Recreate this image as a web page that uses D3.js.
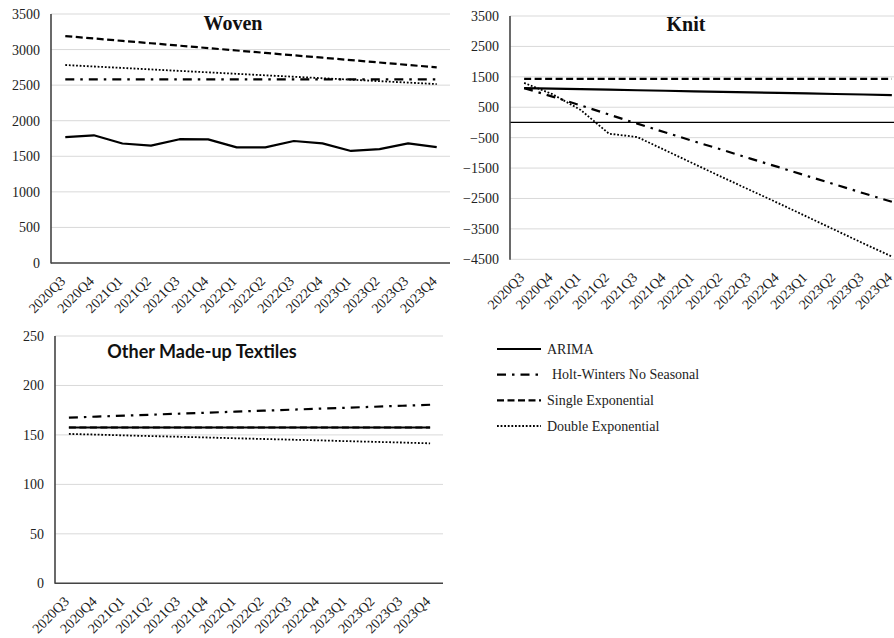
<!DOCTYPE html>
<html>
<head>
<meta charset="utf-8">
<script src="https://cdn.jsdelivr.net/npm/d3@7"></script>
<style>
  html, body { margin: 0; padding: 0; background: #fff; }
  svg { display: block; }
</style>
</head>
<body>
<svg id="chart" width="894" height="638"></svg>
<script>
// Forecast quarters shared by all three panels
const quarters = ["2020Q3","2020Q4","2021Q1","2021Q2","2021Q3","2021Q4","2022Q1","2022Q2","2022Q3","2022Q4","2023Q1","2023Q2","2023Q3","2023Q4"];

// Woven
const wovenArima  = [1770, 1795, 1680, 1650, 1740, 1738, 1625, 1625, 1715, 1682, 1575, 1600, 1682, 1628];
const wovenHolt   = [2580, 2580, 2580, 2580, 2580, 2580, 2580, 2580, 2580, 2580, 2580, 2580, 2580, 2580];
const wovenSingle = [3190, 3156, 3122, 3089, 3055, 3021, 2987, 2953, 2919, 2886, 2852, 2818, 2784, 2750];
const wovenDouble = [2783, 2762, 2742, 2721, 2700, 2680, 2659, 2638, 2618, 2597, 2577, 2556, 2536, 2515];
const wovenTicks  = [0, 500, 1000, 1500, 2000, 2500, 3000, 3500];

// Knit
const knitArima  = [1130, 1112, 1095, 1077, 1059, 1042, 1024, 1006, 989, 971, 953, 936, 918, 900];
const knitHolt   = [1130, 850, 560, 260, -40, -330, -620, -900, -1190, -1470, -1760, -2040, -2330, -2610];
const knitSingle = [1430, 1430, 1430, 1430, 1430, 1430, 1430, 1430, 1430, 1430, 1430, 1430, 1430, 1430];
const knitDouble = [1300, 930, 410, -370, -480, -920, -1360, -1800, -2230, -2660, -3100, -3540, -3980, -4410];
const knitTicks  = [3500, 2500, 1500, 500, -500, -1500, -2500, -3500, -4500];

// Other Made-up Textiles
const otherArima  = [157.5, 157.5, 157.5, 157.5, 157.5, 157.5, 157.5, 157.5, 157.5, 157.5, 157.5, 157.5, 157.5, 157.5];
const otherHolt   = [167.5, 168.5, 169.5, 170.5, 171.5, 172.5, 173.5, 174.5, 175.5, 176.5, 177.5, 178.5, 179.5, 180.5];
const otherSingle = [157.5, 157.5, 157.5, 157.5, 157.5, 157.5, 157.5, 157.5, 157.5, 157.5, 157.5, 157.5, 157.5, 157.5];
const otherDouble = [151, 150.3, 149.5, 148.8, 148.1, 147.4, 146.6, 145.9, 145.2, 144.5, 143.7, 143, 142.3, 141.5];
const otherTicks  = [0, 50, 100, 150, 200, 250];

const methodNames = ["ARIMA", "Holt-Winters No Seasonal", "Single Exponential", "Double Exponential"];

// Stroke style per forecasting method
const styles = {
  "ARIMA":                    { dash: null,          width: 2.2 },
  "Holt-Winters No Seasonal": { dash: "9,6,2.5,6",   width: 2.2 },
  "Single Exponential":       { dash: "7,3.5",       width: 2.2 },
  "Double Exponential":       { dash: "1.8,1.8",     width: 1.8 }
};

const svg = d3.select("#chart");
const serif = '"Liberation Serif", "Times New Roman", serif';

function drawPanel(p) {
  const x = d3.scaleBand().domain(quarters).range([p.x0, p.x1]);
  const y = d3.scaleLinear().domain(p.domain).range([p.yBottom, p.yTop]);
  const g = svg.append("g");

  // horizontal gridlines
  g.selectAll("line.grid").data(p.ticks).join("line")
    .attr("class", "grid")
    .attr("x1", p.x0).attr("x2", p.gridEnd)
    .attr("y1", d => y(d)).attr("y2", d => y(d))
    .attr("stroke", "#d9d9d9").attr("stroke-width", 1);

  // y axis labels
  const yAxis = d3.axisLeft(y).tickValues(p.ticks).tickFormat(d3.format("d")).tickSize(0).tickPadding(11);
  const ya = g.append("g").attr("transform", `translate(${p.x0},0)`).call(yAxis);
  ya.attr("font-family", null).attr("font-size", null);
  ya.select(".domain").remove();
  ya.selectAll("text")
    .style("font-family", serif).style("font-size", "14px").attr("fill", "#222");

  // x axis labels, rotated
  const xAxis = d3.axisBottom(x).tickSize(0).tickPadding(0);
  const xa = g.append("g").attr("transform", `translate(0,${p.yBottom})`).call(xAxis);
  xa.attr("font-family", null).attr("font-size", null);
  xa.select(".domain").remove();
  xa.selectAll("text")
    .style("font-family", serif).style("font-size", "14px").attr("fill", "#222")
    .attr("text-anchor", "end")
    .attr("dy", 0)
    .attr("transform", "translate(1,19) rotate(-45)");

  // zero reference line
  if (p.zeroLine) {
    g.append("line")
      .attr("x1", p.x0).attr("x2", p.gridEnd)
      .attr("y1", y(0)).attr("y2", y(0))
      .attr("stroke", "#000").attr("stroke-width", 1.2);
  }

  // axis lines
  g.append("line")
    .attr("x1", p.x0).attr("x2", p.x0)
    .attr("y1", p.yTop).attr("y2", p.yBottom + 0.5)
    .attr("stroke", "#444").attr("stroke-width", 1.6);
  if (p.bottomAxis) {
    g.append("line")
      .attr("x1", p.x0).attr("x2", p.gridEnd)
      .attr("y1", p.yBottom).attr("y2", p.yBottom)
      .attr("stroke", "#444").attr("stroke-width", 1.6);
  }

  // series lines
  const line = d3.line().x((d, i) => x(quarters[i]) + x.bandwidth() / 2).y(d => y(d));
  p.series.forEach(s => {
    const st = styles[s.name];
    g.append("path")
      .datum(s.values)
      .attr("d", line)
      .attr("fill", "none")
      .attr("stroke", "#000")
      .attr("stroke-width", st.width)
      .attr("stroke-dasharray", st.dash)
      .attr("stroke-linejoin", "round");
  });

  // panel title
  g.append("text")
    .attr("x", p.titleX).attr("y", p.titleY)
    .attr("text-anchor", "middle")
    .style("font-family", p.titleFont)
    .style("font-weight", "bold")
    .style("font-size", p.titleSize + "px")
    .attr("fill", "#111")
    .text(p.title);
}

drawPanel({
  title: "Woven", titleX: 233, titleY: 30, titleSize: 20, titleFont: serif,
  x0: 51, x1: 451, gridEnd: 450, yTop: 14, yBottom: 263,
  domain: [0, 3500], ticks: wovenTicks, bottomAxis: true,
  series: [
    { name: "Single Exponential", values: wovenSingle },
    { name: "Double Exponential", values: wovenDouble },
    { name: "Holt-Winters No Seasonal", values: wovenHolt },
    { name: "ARIMA", values: wovenArima }
  ]
});

drawPanel({
  title: "Knit", titleX: 686, titleY: 31, titleSize: 20, titleFont: serif,
  x0: 510, x1: 906, gridEnd: 894, yTop: 16, yBottom: 259.3,
  domain: [-4500, 3500], ticks: knitTicks, bottomAxis: false, zeroLine: true,
  series: [
    { name: "Single Exponential", values: knitSingle },
    { name: "Double Exponential", values: knitDouble },
    { name: "Holt-Winters No Seasonal", values: knitHolt },
    { name: "ARIMA", values: knitArima }
  ]
});

drawPanel({
  title: "Other Made-up Textiles", titleX: 202, titleY: 358, titleSize: 18,
  titleFont: 'Lato, "Open Sans", sans-serif',
  x0: 55, x1: 444, gridEnd: 443, yTop: 336, yBottom: 583.3,
  domain: [0, 250], ticks: otherTicks, bottomAxis: true,
  series: [
    { name: "Double Exponential", values: otherDouble },
    { name: "Holt-Winters No Seasonal", values: otherHolt },
    { name: "Single Exponential", values: otherSingle },
    { name: "ARIMA", values: otherArima }
  ]
});

// legend
const legendY = d3.scalePoint().domain(methodNames).range([349, 426]);
const legend = svg.append("g");
methodNames.forEach(name => {
  const st = styles[name];
  const yy = legendY(name);
  legend.append("line")
    .attr("x1", 497).attr("x2", 541)
    .attr("y1", yy).attr("y2", yy)
    .attr("stroke", "#000")
    .attr("stroke-width", st.width)
    .attr("stroke-dasharray", st.dash);
  legend.append("text")
    .attr("x", name === "Holt-Winters No Seasonal" ? 552 : 547)
    .attr("y", yy + 4.5)
    .style("font-family", serif)
    .style("font-size", "14px")
    .attr("fill", "#222")
    .text(name);
});
</script>
</body>
</html>
